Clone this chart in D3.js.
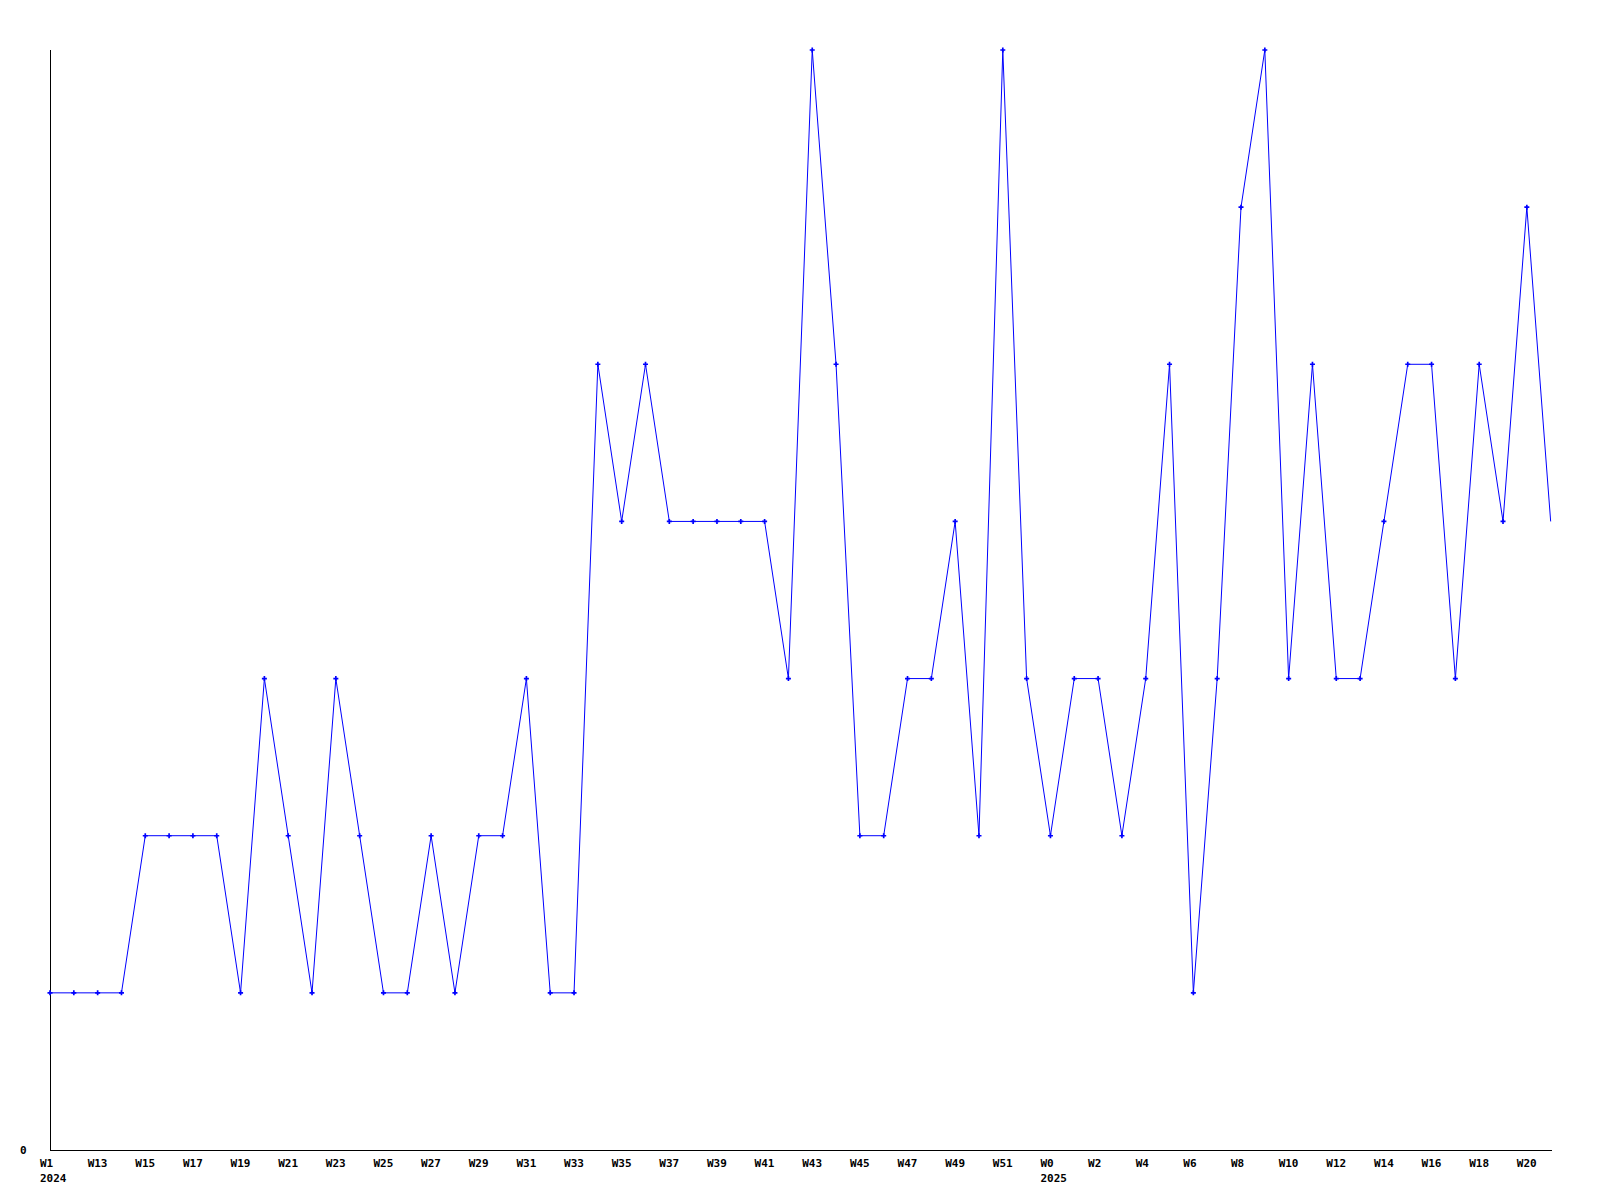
<!DOCTYPE html>
<html>
<head>
<meta charset="utf-8">
<script src="https://cdn.jsdelivr.net/npm/d3@7"></script>
<style>
  html, body { margin: 0; padding: 0; background: #fff; }
  svg { display: block; }
  text { font-family: "DejaVu Sans Mono", "Liberation Mono", monospace; font-weight: bold; font-size: 11px; fill: #000; }
</style>
</head>
<body>
<svg id="chart" width="1600" height="1200"></svg>
<script>
// Week categories (one per point)
const weeks = ["W1",
  "W12","W13","W14","W15","W16","W17","W18","W19","W20","W21","W22","W23","W24","W25","W26",
  "W27","W28","W29","W30","W31","W32","W33","W34","W35","W36","W37","W38","W39","W40","W41",
  "W42","W43","W44","W45","W46","W47","W48","W49","W50","W51","W52",
  "W0","W1","W2","W3","W4","W5","W6","W7","W8","W9","W10","W11","W12","W13","W14","W15",
  "W16","W17","W18","W19","W20","W21"];
// Series values
const values = [1,1,1,1,2,2,2,2,1,3,2,1,3,2,1,1,2,1,2,2,3,1,1,5,4,5,4,4,4,4,4,3,7,5,2,2,3,3,4,2,7,3,
  2,3,3,2,3,5,1,3,6,7,3,5,3,3,4,5,5,3,5,4,6,4];
// Year labels under given point indices
const yearLabels = [{ index: 0, label: "2024" }, { index: 42, label: "2025" }];
// Y tick labels
const yTicks = [0];

const svg = d3.select("#chart");
const idx = d3.range(values.length);

const x = d3.scalePoint().domain(idx).range([50, 50 + 63 * 23.82]);
const y = d3.scaleLinear().domain([0, 7]).range([1150, 50]);

// axes lines
svg.append("line").attr("x1", 50).attr("x2", 50).attr("y1", 50).attr("y2", 1150)
  .attr("stroke", "#000").attr("stroke-width", 1).attr("shape-rendering", "crispEdges");
svg.append("line").attr("x1", 50).attr("x2", x(idx[idx.length - 1]) + 1).attr("y1", 1150).attr("y2", 1150)
  .attr("stroke", "#000").attr("stroke-width", 1).attr("shape-rendering", "crispEdges");

// y tick labels
svg.selectAll("text.ytick").data(yTicks).join("text").attr("class", "ytick")
  .attr("x", 20).attr("y", d => y(d) + 4).text(d => d);

// x tick labels every other point
svg.selectAll("text.xtick").data(idx.filter(i => i % 2 === 0)).join("text").attr("class", "xtick")
  .attr("x", i => x(i) - 10).attr("y", 1167).text(i => weeks[i]);

svg.selectAll("text.year").data(yearLabels).join("text").attr("class", "year")
  .attr("x", d => x(d.index) - 10).attr("y", 1182).text(d => d.label);

// line
const line = d3.line().x(i => x(i)).y(i => y(values[i]));
svg.append("path").datum(idx).attr("d", line)
  .attr("fill", "none").attr("stroke", "#0000ff").attr("stroke-width", 1);

// markers (all but last)
const cross = d3.symbol().type(d3.symbolCross).size(14);
svg.selectAll("path.mk").data(idx.slice(0, -1)).join("path").attr("class", "mk")
  .attr("d", cross)
  .attr("transform", i => `translate(${x(i)},${y(values[i])})`)
  .attr("fill", "#0000ff");
</script>
</body>
</html>
